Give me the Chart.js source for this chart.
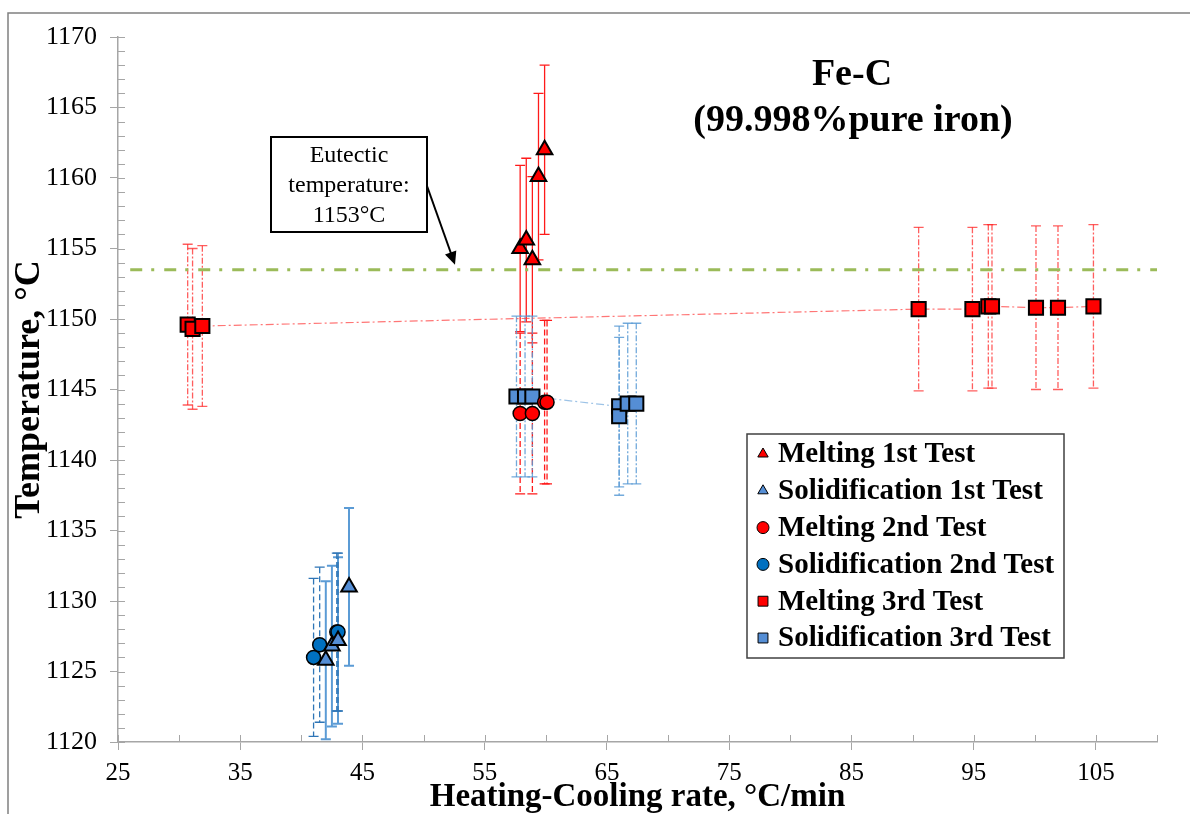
<!DOCTYPE html>
<html>
<head>
<meta charset="utf-8">
<title>Fe-C heating-cooling rate</title>
<script src="https://cdn.jsdelivr.net/npm/chart.js@4.4.0/dist/chart.umd.min.js"></script>
<style>
  html, body { margin: 0; padding: 0; background: #fff; }
  #wrap { width: 1190px; height: 814px; }
</style>
</head>
<body>
<div id="wrap"><canvas id="rateChart" width="1190" height="814"></canvas></div>
<script>
const SERIF = "'Liberation Serif', 'Times New Roman', serif";

// tick labels
const xTickLabels = [25, 35, 45, 55, 65, 75, 85, 95, 105];
const yTickLabels = [1120, 1125, 1130, 1135, 1140, 1145, 1150, 1155, 1160, 1165, 1170];

// Melting 1st Test
const m1Rate = [57.9, 58.4, 58.9, 59.4, 59.9];
const m1Temp = [1155.0, 1155.6, 1154.2, 1160.1, 1162.0];
const m1Err  = [5.9, 5.8, 5.9, 5.9, 6.0];

// Solidification 1st Test
const s1Rate = [42.0, 42.5, 43.0, 43.9];
const s1Temp = [1125.8, 1126.8, 1127.2, 1131.0];
const s1Err  = [5.6, 5.7, 5.9, 5.6];

// Melting 2nd Test
const m2Rate = [57.9, 58.9, 59.9, 60.1];
const m2Temp = [1143.3, 1143.3, 1144.1, 1144.1];
const m2Err  = [5.7, 5.7, 5.8, 5.8];

// Solidification 2nd Test
const s2Rate = [41.0, 41.5, 42.9, 43.0];
const s2Temp = [1126.0, 1126.9, 1127.8, 1127.8];
const s2Err  = [5.6, 5.5, 5.6, 5.6];

// Melting 3rd Test
const m3Rate = [30.7, 31.1, 31.9, 90.5, 94.9, 96.2, 96.5, 100.1, 101.9, 104.8];
const m3Temp = [1149.6, 1149.3, 1149.5, 1150.7, 1150.7, 1150.9, 1150.9, 1150.8, 1150.8, 1150.9];
const m3Err  = [5.7, 5.7, 5.7, 5.8, 5.8, 5.8, 5.8, 5.8, 5.8, 5.8];

// Solidification 3rd Test
const s3Rate = [57.6, 58.3, 58.9, 66.0, 66.0, 66.7, 67.4];
const s3Temp = [1144.5, 1144.5, 1144.5, 1143.8, 1143.1, 1144.0, 1144.0];
const s3Err  = [5.7, 5.7, 5.7, 5.7, 5.6, 5.7, 5.7];

// eutectic line
const eutecticTemp = 1153.5;
const eutecticRate = [26, 110];

const axisGray = "#a6a6a6";
const pts = (xs, ys) => xs.map((x, i) => ({ x: x, y: ys[i] }));

const errorBars = {
  id: "errorBars",
  beforeDatasetsDraw(chart) {
    const ctx = chart.ctx;
    const y = chart.scales.y;
    chart.data.datasets.forEach((ds, i) => {
      if (!ds.err) return;
      const meta = chart.getDatasetMeta(i);
      const st = ds.errStyle;
      ctx.save();
      ctx.strokeStyle = st.color;
      ctx.lineWidth = st.width;
      meta.data.forEach((p, j) => {
        const v = ds.data[j].y, e = ds.err[j];
        const top = y.getPixelForValue(v + e);
        const bot = y.getPixelForValue(v - e);
        ctx.setLineDash(st.dash);
        ctx.beginPath();
        ctx.moveTo(p.x, top);
        ctx.lineTo(p.x, bot);
        ctx.stroke();
        ctx.setLineDash([]);
        ctx.beginPath();
        ctx.moveTo(p.x - 5, top); ctx.lineTo(p.x + 5, top);
        ctx.moveTo(p.x - 5, bot); ctx.lineTo(p.x + 5, bot);
        ctx.stroke();
      });
      ctx.restore();
    });
  }
};

const frameAndTicks = {
  id: "frameAndTicks",
  beforeDraw(chart) {
    const ctx = chart.ctx;
    ctx.save();
    ctx.fillStyle = "#fff";
    ctx.fillRect(0, 0, chart.width, chart.height);
    ctx.strokeStyle = "#808080";
    ctx.lineWidth = 1.5;
    ctx.beginPath();
    ctx.moveTo(8, chart.height); ctx.lineTo(8, 13); ctx.lineTo(chart.width, 13);
    ctx.stroke();
    ctx.restore();
  },
  afterDraw(chart) {
    const { ctx, scales: { x, y } } = chart;
    ctx.save();
    ctx.strokeStyle = axisGray;
    ctx.lineWidth = 1;
    ctx.beginPath();
    for (let v = y.min; v <= y.max; v++) {
      const py = Math.round(y.getPixelForValue(v)) + 0.5;
      ctx.moveTo(x.left, py); ctx.lineTo(x.left + 7, py);
    }
    for (let v = x.min; v <= x.max; v += 5) {
      const px = Math.round(x.getPixelForValue(v)) + 0.5;
      ctx.moveTo(px, y.bottom); ctx.lineTo(px, y.bottom - 7);
    }
    ctx.stroke();
    ctx.restore();
  }
};

const notes = {
  id: "notes",
  afterDraw(chart) {
    const ctx = chart.ctx;
    const y = chart.scales.y;
    ctx.save();
    // title
    ctx.fillStyle = "#000";
    ctx.textAlign = "center";
    ctx.textBaseline = "middle";
    ctx.font = "bold 38px " + SERIF;
    ctx.fillText("Fe-C", 852, 75);
    ctx.fillText("(99.998%pure iron)", 853, 121);

    // eutectic box
    ctx.fillStyle = "#fff";
    ctx.fillRect(271, 137, 156, 95);
    ctx.strokeStyle = "#000";
    ctx.lineWidth = 2;
    ctx.strokeRect(271, 137, 156, 95);
    ctx.fillStyle = "#000";
    ctx.font = "24px " + SERIF;
    ctx.fillText("Eutectic", 349, 156);
    ctx.fillText("temperature:", 349, 186);
    ctx.fillText("1153°C", 349, 216);

    // arrow
    const x0 = 427, y0 = 186, x1 = 455, y1 = y.getPixelForValue(eutecticTemp) - 5;
    const ang = Math.atan2(y1 - y0, x1 - x0);
    ctx.lineWidth = 2;
    ctx.beginPath();
    ctx.moveTo(x0, y0);
    ctx.lineTo(x1 - 6 * Math.cos(ang), y1 - 6 * Math.sin(ang));
    ctx.stroke();
    ctx.beginPath();
    ctx.moveTo(x1, y1);
    ctx.lineTo(x1 - 13 * Math.cos(ang) + 6 * Math.sin(ang), y1 - 13 * Math.sin(ang) - 6 * Math.cos(ang));
    ctx.lineTo(x1 - 13 * Math.cos(ang) - 6 * Math.sin(ang), y1 - 13 * Math.sin(ang) + 6 * Math.cos(ang));
    ctx.closePath();
    ctx.fill();

    // legend
    const bx = 747, by = 434, bw = 317, bh = 224;
    ctx.fillStyle = "#fff";
    ctx.fillRect(bx, by, bw, bh);
    ctx.strokeStyle = "#404040";
    ctx.lineWidth = 1.5;
    ctx.strokeRect(bx, by, bw, bh);
    ctx.textAlign = "left";
    ctx.font = "bold 29px " + SERIF;
    chart.data.datasets.filter(d => d.err).forEach((ds, i) => {
      const cy = 454 + i * 36.8;
      ctx.fillStyle = ds.pointBackgroundColor;
      ctx.strokeStyle = "#000";
      ctx.lineWidth = 1;
      Chart.helpers.drawPoint(ctx, {
        pointStyle: ds.pointStyle,
        radius: ds.pointStyle === "rect" ? 7 : 6,
        rotation: 0,
        borderWidth: 1
      }, 763, cy);
      ctx.fillStyle = "#000";
      ctx.fillText(ds.label, 778, cy + 1);
    });
    ctx.restore();
  }
};

Chart.defaults.font.family = SERIF;
Chart.defaults.color = "#000";

const ctx = document.getElementById("rateChart").getContext("2d");
new Chart(ctx, {
  type: "scatter",
  data: {
    datasets: [
      {
        label: "Eutectic",
        data: pts(eutecticRate, [eutecticTemp, eutecticTemp]),
        showLine: true,
        borderColor: "#9bbb59",
        borderWidth: 3,
        borderDash: [12, 9, 3, 10],
        pointRadius: 0
      },
      {
        label: "Melting 1st Test",
        data: pts(m1Rate, m1Temp),
        err: m1Err,
        errStyle: { color: "#ff1a1a", width: 1.3, dash: [] },
        pointStyle: "triangle",
        pointRadius: 9,
        pointBackgroundColor: "#ff0000",
        pointBorderColor: "#000",
        pointBorderWidth: 2
      },
      {
        label: "Solidification 1st Test",
        data: pts(s1Rate, s1Temp),
        err: s1Err,
        errStyle: { color: "#5b9bd5", width: 2, dash: [] },
        pointStyle: "triangle",
        pointRadius: 9,
        pointBackgroundColor: "#558ed5",
        pointBorderColor: "#000",
        pointBorderWidth: 2
      },
      {
        label: "Melting 2nd Test",
        data: pts(m2Rate, m2Temp),
        err: m2Err,
        errStyle: { color: "#ff1a1a", width: 1.3, dash: [6, 3] },
        pointStyle: "circle",
        pointRadius: 7,
        pointBackgroundColor: "#ff0000",
        pointBorderColor: "#000",
        pointBorderWidth: 1.5
      },
      {
        label: "Solidification 2nd Test",
        data: pts(s2Rate, s2Temp),
        err: s2Err,
        errStyle: { color: "#2e75b6", width: 1.3, dash: [6, 3] },
        pointStyle: "circle",
        pointRadius: 7,
        pointBackgroundColor: "#0070c0",
        pointBorderColor: "#000",
        pointBorderWidth: 1.5
      },
      {
        label: "Melting 3rd Test",
        data: pts(m3Rate, m3Temp),
        err: m3Err,
        errStyle: { color: "rgba(255,40,40,0.75)", width: 1.3, dash: [6, 2, 2, 2] },
        showLine: true,
        borderColor: "rgba(255,60,60,0.7)",
        borderWidth: 1.2,
        borderDash: [8, 3, 2, 3],
        pointStyle: "rect",
        pointRadius: 10,
        pointBackgroundColor: "#ff0000",
        pointBorderColor: "#000",
        pointBorderWidth: 2
      },
      {
        label: "Solidification 3rd Test",
        data: pts(s3Rate, s3Temp),
        err: s3Err,
        errStyle: { color: "rgba(91,155,213,0.85)", width: 1.3, dash: [6, 2, 2, 2] },
        showLine: true,
        borderColor: "rgba(91,155,213,0.6)",
        borderWidth: 1.2,
        borderDash: [8, 3, 2, 3],
        pointStyle: "rect",
        pointRadius: 10,
        pointBackgroundColor: "#558ed5",
        pointBorderColor: "#000",
        pointBorderWidth: 2
      }
    ]
  },
  options: {
    responsive: false,
    animation: false,
    layout: { padding: { left: 0, right: 33, top: 37, bottom: 0 } },
    plugins: {
      legend: { display: false },
      tooltip: { enabled: false }
    },
    scales: {
      x: {
        type: "linear",
        min: 25,
        max: 110,
        border: { color: axisGray, width: 1.5 },
        grid: {
          drawOnChartArea: false,
          tickLength: 8,
          color: c => (c.tick && xTickLabels.includes(c.tick.value)) ? axisGray : "rgba(0,0,0,0)"
        },
        ticks: {
          stepSize: 5,
          autoSkip: false,
          maxRotation: 0,
          padding: 8,
          font: { size: 25 },
          callback: v => xTickLabels.includes(v) ? String(v) : ""
        },
        title: {
          display: true,
          text: "Heating-Cooling rate, °C/min",
          font: { size: 33, weight: "bold", lineHeight: 1 },
          padding: { top: 0, bottom: 0 }
        },
        afterFit: s => { s.height = 72; }
      },
      y: {
        type: "linear",
        min: 1120,
        max: 1170,
        border: { color: axisGray, width: 1.5 },
        grid: { drawOnChartArea: false, tickLength: 8, color: axisGray },
        ticks: {
          stepSize: 5,
          padding: 13,
          font: { size: 26 },
          callback: v => yTickLabels.includes(v) ? String(v) : ""
        },
        title: {
          display: true,
          text: "Temperature, °C",
          font: { size: 36, weight: "bold", lineHeight: 1 },
          padding: { top: 12, bottom: 12 }
        },
        afterFit: s => { s.width = 118; }
      }
    }
  },
  plugins: [frameAndTicks, errorBars, notes]
});
</script>
</body>
</html>
